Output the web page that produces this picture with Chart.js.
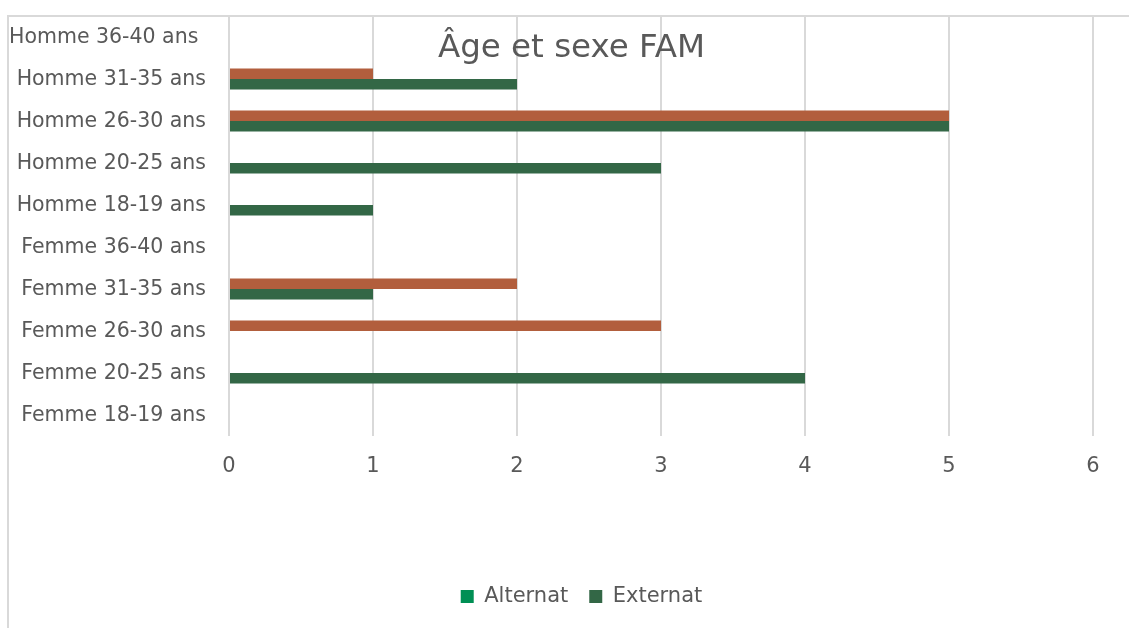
<!DOCTYPE html>
<html>
<head>
<meta charset="utf-8">
<script src="https://cdn.jsdelivr.net/npm/chart.js@4"></script>
<style>
  html, body { margin: 0; padding: 0; background: #ffffff; }
  #c { display: block; }
</style>
</head>
<body>
<canvas id="c" width="1129" height="628"></canvas>
<script>
// Age groups by sex, bottom to top
const categories = [
  'Femme 18-19 ans', 'Femme 20-25 ans', 'Femme 26-30 ans', 'Femme 31-35 ans', 'Femme 36-40 ans',
  'Homme 18-19 ans', 'Homme 20-25 ans', 'Homme 26-30 ans', 'Homme 31-35 ans', 'Homme 36-40 ans'
];
const seriesNames = ['Alternat', 'Externat'];
const alternat = [0, 0, 3, 2, 0, 0, 0, 5, 1, 0];
const externat = [0, 4, 0, 1, 0, 1, 3, 5, 2, 0];
const valueTicks = [0, 1, 2, 3, 4, 5, 6];
const chartTitle = 'Âge et sexe FAM';

const TEXT = '#595959';
const GRID = '#d9d9d9';
const FONT = '"DejaVu Sans", Verdana, sans-serif';
const PAD_LEFT = 70;

// Outer frame of the chart object
const framePlugin = {
  id: 'frame',
  beforeDraw(chart) {
    const ctx = chart.ctx;
    ctx.save();
    ctx.strokeStyle = GRID;
    ctx.lineWidth = 2;
    ctx.strokeRect(8, 16, 1400, 900);
    ctx.restore();
  }
};

// Category labels along the left side, drawn at the scale's tick positions
const categoryLabelPlugin = {
  id: 'categoryLabels',
  afterDraw(chart) {
    const ctx = chart.ctx;
    const y = chart.scales.y;
    ctx.save();
    ctx.fillStyle = TEXT;
    ctx.font = '20.5px ' + FONT;
    ctx.textBaseline = 'middle';
    categories.forEach((label, i) => {
      const py = y.getPixelForTick(i) + 0.5;
      if (i === categories.length - 1) {
        ctx.textAlign = 'left';
        ctx.fillText(label, 9, py);
      } else {
        ctx.textAlign = 'right';
        ctx.fillText(label, 206, py);
      }
    });
    ctx.restore();
  }
};

// Title sits over the top of the plot area
const titlePlugin = {
  id: 'overlayTitle',
  afterDraw(chart) {
    const ctx = chart.ctx;
    ctx.save();
    ctx.fillStyle = TEXT;
    ctx.font = '32.5px ' + FONT;
    ctx.textAlign = 'center';
    ctx.textBaseline = 'alphabetic';
    ctx.fillText(chartTitle, 571.5, 57);
    ctx.restore();
  }
};

new Chart(document.getElementById('c'), {
  type: 'bar',
  data: {
    labels: categories,
    datasets: [
      {
        label: seriesNames[0],
        data: alternat,
        backgroundColor: '#b25e3d',
        legendColor: '#008f54'
      },
      {
        label: seriesNames[1],
        data: externat,
        backgroundColor: '#336746',
        legendColor: '#336746'
      }
    ]
  },
  options: {
    indexAxis: 'y',
    responsive: false,
    animation: false,
    devicePixelRatio: 1,
    categoryPercentage: 0.5,
    barPercentage: 1.0,
    layout: { padding: { left: PAD_LEFT, right: 36, top: 16, bottom: 11 } },
    scales: {
      x: {
        type: 'linear',
        min: valueTicks[0],
        max: valueTicks[valueTicks.length - 1],
        afterBuildTicks(scale) {
          scale.ticks = valueTicks.map(v => ({ value: v }));
        },
        afterFit(scale) { scale.height = 129; },
        grid: { color: GRID, lineWidth: 2, drawTicks: false },
        border: { display: false },
        ticks: {
          color: TEXT,
          font: { family: FONT, size: 21 },
          padding: 18,
          maxRotation: 0
        }
      },
      y: {
        reverse: true,
        afterFit(scale) { scale.width = 229 - PAD_LEFT; },
        grid: { display: false, drawTicks: false },
        border: { display: false },
        ticks: { display: false }
      }
    },
    plugins: {
      title: { display: false },
      tooltip: { enabled: false },
      legend: {
        display: true,
        position: 'bottom',
        labels: {
          color: TEXT,
          font: { family: FONT, size: 21 },
          boxWidth: 13,
          boxHeight: 13,
          padding: 21,
          generateLabels(chart) {
            return chart.data.datasets.map((ds, i) => ({
              text: ds.label,
              fillStyle: ds.legendColor,
              strokeStyle: ds.legendColor,
              lineWidth: 0,
              hidden: false,
              datasetIndex: i,
              fontColor: TEXT
            }));
          }
        }
      }
    }
  },
  plugins: [framePlugin, categoryLabelPlugin, titlePlugin]
});
</script>
</body>
</html>
